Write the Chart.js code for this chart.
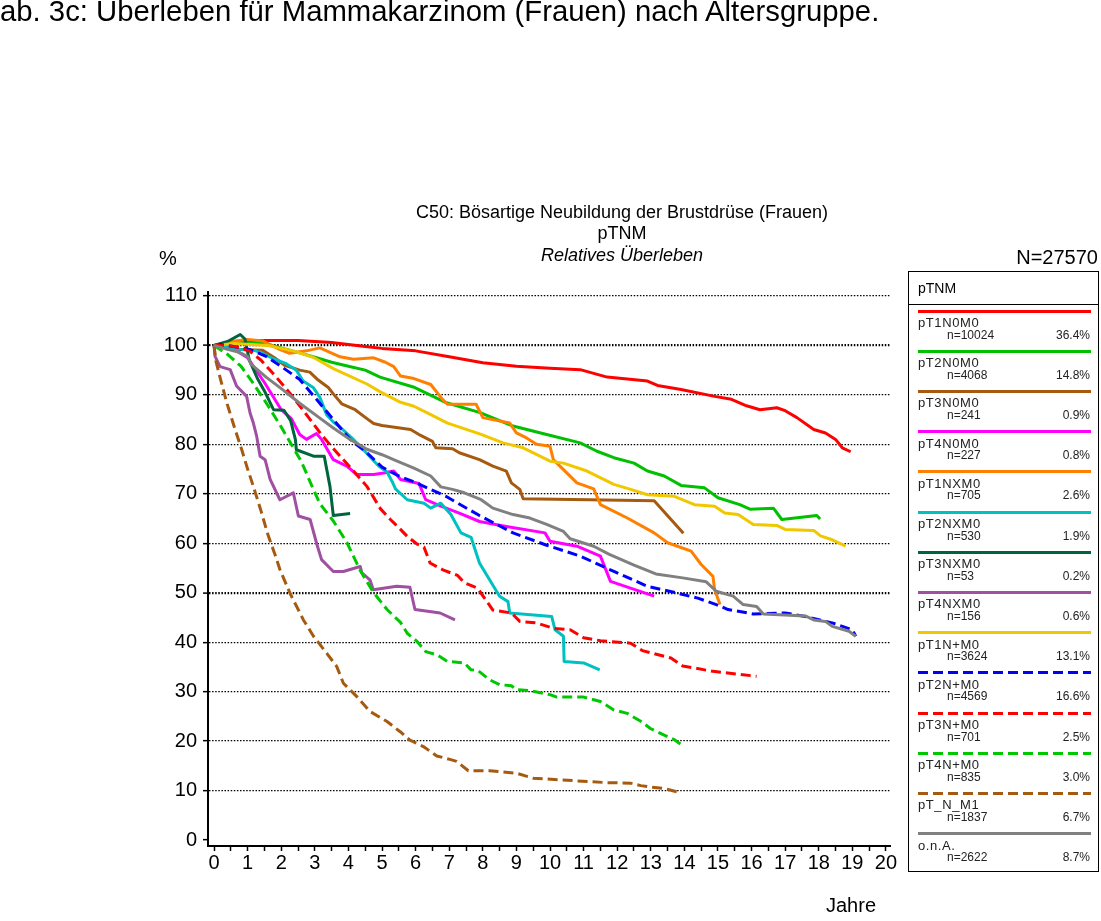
<!DOCTYPE html>
<html>
<head>
<meta charset="utf-8">
<script src="https://cdn.jsdelivr.net/npm/chart.js@4.4.1/dist/chart.umd.min.js"></script>
<style>
html,body{margin:0;padding:0;background:#fff;width:1101px;height:921px;overflow:hidden;font-family:"Liberation Sans",Arial,sans-serif;color:#000}
#c{position:absolute;left:0;top:0}
.t{position:absolute;white-space:nowrap;line-height:1}
#lgbox{position:absolute;left:908px;top:271px;width:191px;height:601px;border:1.5px solid #000;box-sizing:border-box}
.sep{position:absolute;left:908px;width:191px;height:0;border-top:1px solid #000}
.ln{position:absolute;height:3px}
</style>
</head>
<body>
<canvas id="c" width="1101" height="921"></canvas>
<div id="lgbox"></div>
<div id="texts"></div>
<script>
// ---------- data ----------
const categories = ['pT1N0M0','pT2N0M0','pT3N0M0','pT4N0M0','pT1NXM0','pT2NXM0','pT3NXM0','pT4NXM0','pT1N+M0','pT2N+M0','pT3N+M0','pT4N+M0','pT_N_M1','o.n.A.'];
const caseCounts = [10024,4068,241,227,705,530,53,156,3624,4569,701,835,1837,2622];
const caseShares = ['36.4%','14.8%','0.9%','0.8%','2.6%','1.9%','0.2%','0.6%','13.1%','16.6%','2.5%','3.0%','6.7%','8.7%'];
const xTickLabels = [0,1,2,3,4,5,6,7,8,9,10,11,12,13,14,15,16,17,18,19,20];
const yTickLabels = [0,10,20,30,40,50,60,70,80,90,100,110];

const pT1N0M0_years = [0,0.5,1,1.5,2,2.5,3,3.5,4,4.5,5,6,7,8,9,10,10.9,11.7,12.9,13.2,13.9,14.9,15.4,15.85,16.25,16.75,17.0,17.35,17.85,18.2,18.5,18.7,18.95];
const pT1N0M0_surv  = [100,100.6,100.9,101,101,101,100.8,100.6,100.2,99.8,99.4,98.9,97.7,96.5,95.8,95.4,95.1,93.6,92.8,91.9,91.1,89.7,89.1,87.8,87.0,87.4,86.8,85.4,83.0,82.3,81.0,79.3,78.5];

const pT2N0M0_years = [0,0.5,1,1.5,2,2.5,3,3.5,4,4.5,4.94,5.93,6.92,7.92,8.9,9.9,10.9,11.4,11.9,12.5,12.9,13.4,13.9,14.6,15.0,15.65,15.95,16.65,16.9,17.94,18.04];
const pT2N0M0_surv  = [100,100.3,100.4,100.4,99.5,98.6,97.6,96.6,95.8,95.0,93.6,91.6,88.4,86.4,83.7,82.0,80.3,78.6,77.3,76.2,74.6,73.6,71.7,71.2,69.2,67.8,66.9,67.1,64.8,65.6,64.9];

const pT3N0M0_years = [0,0.6,1.45,1.8,2.1,2.55,2.85,3.1,3.4,3.55,3.8,4.2,4.55,4.75,5.0,5.85,6.15,6.5,6.6,7.1,7.3,7.9,8.3,8.7,8.85,9.1,9.2,13.1,13.97];
const pT3N0M0_surv  = [100,99.2,99.0,97.5,96.0,95.0,94.6,93.0,91.5,90.2,88.2,87.0,85.2,84.2,83.8,83.0,81.8,80.6,79.3,79.1,78.3,76.9,75.6,74.6,72.2,70.9,69.0,68.6,62.0];

const pT4N0M0_years = [0,0.5,1,1.5,2,2.3,2.55,2.75,3.05,3.2,3.55,3.95,4.25,4.75,5.05,5.35,5.55,6.1,6.3,6.75,7.3,7.9,8.7,9.85,10.0,10.8,11.5,11.8,13.1];
const pT4N0M0_surv  = [100,99.6,97.5,92.5,87.0,85.2,82.0,81.0,82.2,81.0,76.9,75.6,73.9,73.9,74.2,74.6,72.9,72.1,68.8,67.5,66.1,64.4,63.4,62.1,60.4,59.4,57.4,52.3,49.3];

const pT1NXM0_years = [0,0.5,1,1.45,1.95,2.25,2.75,3.15,3.75,4.15,4.75,5.1,5.35,5.55,5.95,6.45,6.8,6.95,7.8,8.0,8.8,9.0,9.3,9.6,10.0,10.1,10.4,10.8,11.3,11.5,11.8,12.3,13.1,13.5,14.2,14.5,14.85,14.9,15.06];
const pT1NXM0_surv  = [100,100.8,101.2,100.9,99.2,98.4,98.9,99.5,97.7,97.2,97.5,96.6,95.7,93.8,93.3,92.1,89.1,88.1,88.1,85.4,84.3,82.3,81.3,80.0,79.6,76.9,74.9,72.2,71.0,67.8,66.8,65.1,62.1,60.1,58.4,55.7,53.3,50.6,47.6];

const pT2NXM0_years = [0,0.75,1.25,1.5,1.7,2.15,2.45,2.65,2.95,3.15,3.35,3.55,3.75,4.1,4.5,4.9,5.15,5.3,5.4,5.75,6.25,6.45,6.75,7.05,7.35,7.65,7.9,8.3,8.5,8.75,8.8,10.05,10.15,10.4,10.42,11.0,11.48];
const pT2NXM0_surv  = [100,99.2,98.9,98.2,97.5,96.3,95.0,92.8,91.5,89.5,86.0,84.5,83.5,81.3,78.5,75.6,74.4,72.5,71.0,68.8,68.1,67.1,68.1,65.8,62.1,61.2,56.0,51.5,49.3,48.2,45.9,45.2,42.5,41.2,36.1,35.8,34.4];

const pT3NXM0_years = [0,0.4,0.78,0.92,1.05,1.3,1.5,1.77,2.08,2.28,2.42,2.45,2.96,3.28,3.45,3.55,4.05];
const pT3NXM0_surv  = [100,100.8,102.2,101.3,97.0,93.2,90.8,87.0,86.9,84.8,81.0,78.9,77.6,77.6,71.5,65.6,66.0];

const pT4NXM0_years = [0,0.03,0.18,0.48,0.67,0.97,1.07,1.17,1.27,1.37,1.52,1.67,1.96,2.36,2.51,2.86,3.06,3.2,3.55,3.85,4.35,4.4,4.64,4.74,5.44,5.83,5.98,6.73,7.17];
const pT4NXM0_surv  = [100,97.8,95.7,95.1,91.8,89.7,86.4,84.3,81.6,77.6,76.9,72.9,68.8,70.2,65.5,64.8,59.8,56.7,54.3,54.3,55.3,54.0,52.6,50.6,51.3,51.1,46.6,45.9,44.5];

const pT1NpM0_years = [0,0.6,1.6,2.35,2.95,3.55,4.55,4.95,5.55,5.95,6.45,6.95,7.95,8.6,9.2,9.7,10.0,10.4,11.1,11.9,12.4,12.9,13.7,14.3,14.9,15.2,15.6,16.05,16.75,17.0,17.85,18.05,18.4,18.8];
const pT1NpM0_surv  = [100,100.4,100,98.9,97.6,95.3,92.2,90.6,88.5,87.7,86.0,84.3,82.0,80.3,79.3,77.6,76.6,76.2,74.6,71.9,70.9,69.8,69.5,67.8,67.5,66.1,65.8,63.8,63.6,62.8,62.6,61.5,60.7,59.4];

const pT2NpM0_years = [0,0.2,1.05,1.55,2.05,2.55,3.05,3.55,4.05,4.55,5.0,5.5,5.95,6.9,7.9,8.9,9.9,10.9,11.9,12.9,13.8,14.4,14.95,15.3,16.05,17.0,17.6,18.4,19.0,19.1];
const pT2NpM0_surv  = [100,100.2,99.2,97.8,95.5,93.1,89.1,85.0,81.0,78.3,75.4,73.6,72.4,69.5,65.6,62.1,59.6,57.4,54.3,51.3,49.9,48.9,47.6,46.6,45.7,45.9,45.2,43.9,42.5,41.2];

const pT3NpM0_years = [0,0.2,0.6,1.05,1.4,1.8,2.3,2.75,3.25,3.7,4.1,4.55,4.95,5.25,5.55,5.75,6.05,6.25,6.43,6.85,7.25,7.45,7.85,8.05,8.3,8.85,9.1,9.6,10.1,10.6,11.0,11.5,12.4,12.75,13.6,13.95,14.85,16.15];
const pT3NpM0_surv  = [100,100,99.8,98.9,97.0,94.0,90.0,86.0,81.5,78.0,75.0,71.5,67.0,64.8,62.8,61.4,59.8,59.2,56.0,54.5,53.5,52.0,50.9,48.9,46.5,45.9,44.2,43.9,42.8,42.5,40.9,40.3,39.8,38.3,36.8,35.2,34.1,33.1];

const pT4NpM0_years = [0,0.4,0.8,1.1,1.55,2.0,2.3,2.6,2.95,3.15,3.55,3.95,4.35,4.75,5.15,5.55,5.75,6.05,6.3,6.65,6.95,7.45,7.65,7.85,8.2,8.5,8.85,9.0,9.4,10.0,10.2,11.0,11.5,11.9,12.3,12.7,13.0,13.4,13.7,13.96];
const pT4NpM0_surv  = [100,98.2,95.8,93.0,88.4,83.5,80.0,76.5,71.0,68.0,64.5,60.2,54.5,50.0,46.6,44.0,41.8,40.1,38.1,37.4,36.1,35.8,34.4,34.3,32.4,31.4,31.2,30.4,30.2,29.4,28.9,28.9,28.0,26.3,25.6,24.0,22.5,21.2,20.3,19.0];

const pTNM1_years = [0,0.05,0.18,0.38,0.58,0.82,1.0,1.17,1.4,1.6,1.8,1.96,2.26,2.66,2.96,3.35,3.65,3.85,4.25,4.64,5.14,5.54,5.83,6.23,6.63,7.02,7.22,7.57,8.21,9.0,9.5,10.7,11.7,12.4,12.7,13.0,13.4,13.87];
const pTNM1_surv  = [100,97,93.5,88.4,84,79,75,71.5,66.5,61.8,58.0,54.7,49.9,44.5,41.2,37.8,35.1,31.7,29.0,26.0,24.0,21.9,20.2,18.9,17.0,16.3,15.9,14.0,14.0,13.5,12.5,12.0,11.6,11.5,11.0,10.7,10.4,9.6];

const onA_years = [0,0.4,0.75,1.0,1.1,1.55,2.05,2.55,3.05,3.55,4.05,4.55,5.0,5.45,5.95,6.45,6.75,7.1,7.45,7.95,8.3,8.9,9.4,9.9,10.4,10.6,11.3,11.75,12.5,13.15,13.95,14.65,14.95,15.45,15.75,16.15,16.35,17.6,17.85,18.2,18.4,18.9,19.1];
const onA_surv  = [100,99.2,98.6,97.8,96.2,93.6,91.0,88.3,85.8,83.3,81.0,79.0,77.9,76.6,75.2,73.6,71.4,70.9,70.2,68.8,67.1,65.8,65.1,63.8,62.4,60.9,59.4,57.8,55.6,53.8,53.0,52.2,50.3,49.3,47.6,47.2,45.7,45.3,44.5,44.2,43.2,42.2,41.2];

const seriesYears = [pT1N0M0_years,pT2N0M0_years,pT3N0M0_years,pT4N0M0_years,pT1NXM0_years,pT2NXM0_years,pT3NXM0_years,pT4NXM0_years,pT1NpM0_years,pT2NpM0_years,pT3NpM0_years,pT4NpM0_years,pTNM1_years,onA_years];
const seriesSurv  = [pT1N0M0_surv,pT2N0M0_surv,pT3N0M0_surv,pT4N0M0_surv,pT1NXM0_surv,pT2NXM0_surv,pT3NXM0_surv,pT4NXM0_surv,pT1NpM0_surv,pT2NpM0_surv,pT3NpM0_surv,pT4NpM0_surv,pTNM1_surv,onA_surv];

// ---------- styles ----------
const FONT = '"Liberation Sans", Arial, sans-serif';
const DASH = [10,5];
const seriesStyle = [
  {c:'#ff0000', d:[]},{c:'#00c000', d:[]},{c:'#a55a0f', d:[]},{c:'#ff00ff', d:[]},
  {c:'#ff8000', d:[]},{c:'#00c0c0', d:[]},{c:'#00643c', d:[]},{c:'#a050a0', d:[]},
  {c:'#f0c800', d:[]},{c:'#0000ff', d:DASH},{c:'#ff0000', d:DASH},{c:'#00c800', d:DASH},
  {c:'#a55a0f', d:DASH},{c:'#808080', d:[]}
];

const N = categories.length;
const datasets = categories.map((name,i)=>({
  label: name,
  data: seriesYears[i].map((x,j)=>({x:x, y:seriesSurv[i][j]})),
  borderColor: seriesStyle[i].c,
  borderDash: seriesStyle[i].d,
  borderWidth: 3,
  pointRadius: 0,
  tension: 0,
  fill: false,
  borderJoinStyle: 'round',
  order: N-1-i
}));

// minor ticks (midpoints) + major ticks
const xAll = []; xTickLabels.forEach((v,i)=>{ xAll.push(v); if(i<xTickLabels.length-1) xAll.push((v+xTickLabels[i+1])/2); });
const yAll = []; yTickLabels.forEach((v,i)=>{ yAll.push(v); if(i<yTickLabels.length-1) yAll.push((v+yTickLabels[i+1])/2); });
const xMajor = new Set(xTickLabels), yMajor = new Set(yTickLabels);

new Chart(document.getElementById('c'), {
  type: 'line',
  data: { datasets },
  options: {
    responsive: false, animation: false, devicePixelRatio: 1,
    layout: { padding: { left: 148, right: 211, top: 292, bottom: 35 } },
    plugins: { legend: { display: false }, tooltip: { enabled: false }, title: { display: false } },
    scales: {
      x: {
        type: 'linear', min: -0.18, max: 20.12,
        afterBuildTicks: sc => { sc.ticks = xAll.map(v=>({value:v})); },
        afterFit: sc => { sc.height = 40; },
        ticks: { autoSkip:false, maxRotation:0, minRotation:0, padding:0, color:'#000',
                 font:{family:FONT, size:20}, callback: v => xMajor.has(v) ? String(v) : '' },
        grid: { drawOnChartArea:false, drawTicks:true, tickLength:5, tickColor:'#000', tickWidth:1.5, color:'#000' },
        border: { display:true, color:'#000', width:2 }
      },
      y: {
        type: 'linear', min: -1.21, max: 110.8,
        afterBuildTicks: sc => { sc.ticks = yAll.map(v=>({value:v})); },
        afterFit: sc => { sc.width = 60; },
        ticks: { padding:6, color:'#000', font:{family:FONT, size:20}, callback: v => yMajor.has(v) ? String(v) : '' },
        grid: {
          color: ctx => (ctx.tick && yMajor.has(ctx.tick.value) && ctx.tick.value > 0) ? '#000' : 'rgba(0,0,0,0)',
          lineWidth: ctx => (ctx.tick && (ctx.tick.value === 100 || ctx.tick.value === 50)) ? 2.2 : 1.3,
          tickColor:'#000', tickWidth:1.5, tickLength:5, drawTicks:true
        },
        border: { display:true, color:'#000', width:2, dash:[1.5,1.6] }
      }
    }
  }
});

// ---------- texts ----------
const T = document.getElementById('texts');
function put(txt, x, y, size, align, extra){
  const d = document.createElement('div');
  d.className = 't';
  d.textContent = txt;
  d.style.fontSize = size + 'px';
  d.style.top = y + 'px';
  d.style.left = x + 'px';
  const tx = align === 'center' ? '-50%' : (align === 'right' ? '-100%' : '0');
  d.style.transform = 'translate(' + tx + ',-50%)';
  if (extra) Object.assign(d.style, extra);
  T.appendChild(d);
  return d;
}
put('ab. 3c: Überleben für Mammakarzinom (Frauen) nach Altersgruppe.', 0, 11, 29.3, 'left');
put('C50: Bösartige Neubildung der Brustdrüse (Frauen)', 622, 212, 18, 'center');
put('pTNM', 622, 233, 18, 'center');
put('Relatives Überleben', 622, 255, 18, 'center', {fontStyle:'italic'});
put('%', 159, 258, 20, 'left');
put('N=27570', 1098, 257, 20, 'right');
put('Jahre', 876, 905, 20, 'right');

// legend
put('pTNM', 918, 288, 14, 'left');
const sep = document.createElement('div'); sep.className='sep'; sep.style.top='304px'; T.appendChild(sep);
categories.forEach((name,i)=>{
  const ly = 311 + 40.2*i;
  const l = document.createElement('div');
  l.className = 'ln';
  l.style.left = '918px'; l.style.width = '173px'; l.style.top = (ly-1.5) + 'px';
  const st = seriesStyle[i];
  if (st.d.length) l.style.background = 'repeating-linear-gradient(to right,' + st.c + ' 0 10px, transparent 10px 15px)';
  else l.style.background = st.c;
  T.appendChild(l);
  put(name, 918, ly + 11, 13, 'left', {color:'#222', letterSpacing:'0.6px'});
  put('n=' + caseCounts[i], 947, ly + 23.5, 12, 'left', {color:'#222'});
  put(caseShares[i], 1090, ly + 23.5, 12, 'right', {color:'#222'});
});
</script>
</body>
</html>
